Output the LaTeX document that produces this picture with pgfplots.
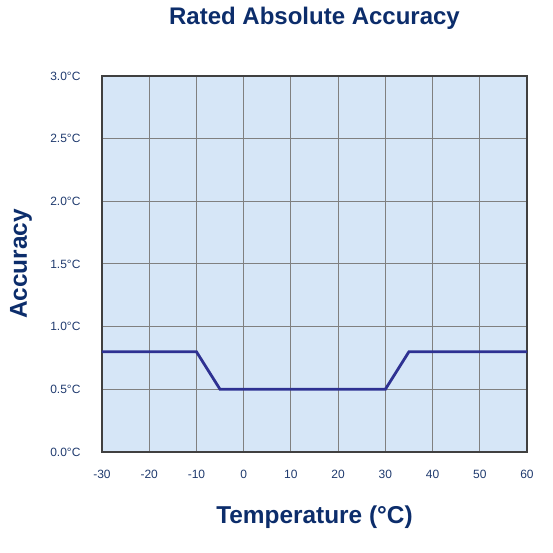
\documentclass[border=0pt]{standalone}
\usepackage{fontspec}
\setmainfont{Liberation Sans}
\usepackage{pgfplots}
\pgfplotsset{compat=1.18}
\definecolor{navy}{HTML}{0C2D6B}
\definecolor{ticknavy}{HTML}{1F3A6E}
\definecolor{bgblue}{HTML}{D6E6F7}
\definecolor{linecol}{HTML}{2E3192}
\definecolor{gridgray}{HTML}{808080}
\definecolor{framegray}{HTML}{404040}
\begin{document}
\begin{tikzpicture}
\useasboundingbox (-102pt,-101pt) rectangle (451pt,452pt);
\begin{axis}[
  at={(0,0)}, anchor=south west,
  scale only axis, width=425pt, height=376pt,
  xmin=-30, xmax=60, ymin=0, ymax=3,
  xtick={-30,-20,...,60},
  xticklabels={-30,-20,-10,0,10,20,30,40,50,60},
  ytick={0,0.5,1,1.5,2,2.5,3},
  yticklabels={0.0°C,0.5°C,1.0°C,1.5°C,2.0°C,2.5°C,3.0°C},
  major tick length=0pt,
  xticklabel style={font=\fontsize{12}{14}\selectfont, text=ticknavy},
  yticklabel style={font=\fontsize{12}{14}\selectfont, text=ticknavy},
  xticklabel shift=15pt,
  yticklabel shift=18pt,
  grid=major,
  major grid style={gridgray, line width=1pt},
  axis line style={framegray, line width=2.5pt},
  axis background/.style={fill=bgblue},
  clip=false,
]
\addplot[linecol, line width=2.8pt, line join=miter] coordinates {
  (-30,0.8) (-10,0.8) (-5,0.5) (30,0.5) (35,0.8) (60,0.8)
};
\node[anchor=base, text=navy, font=\bfseries\fontsize{24}{28}\selectfont] at (axis cs:15,3.407) {Rated Absolute Accuracy};
\node[anchor=base, text=navy, font=\bfseries\fontsize{24.4}{28}\selectfont] at (axis cs:15,-0.5665) {Temperature (°C)};
\node[anchor=base, rotate=90, text=navy, font=\bfseries\fontsize{24.4}{28}\selectfont] at (axis cs:-45.9,1.5) {Accuracy};
\end{axis}
\end{tikzpicture}
\end{document}
